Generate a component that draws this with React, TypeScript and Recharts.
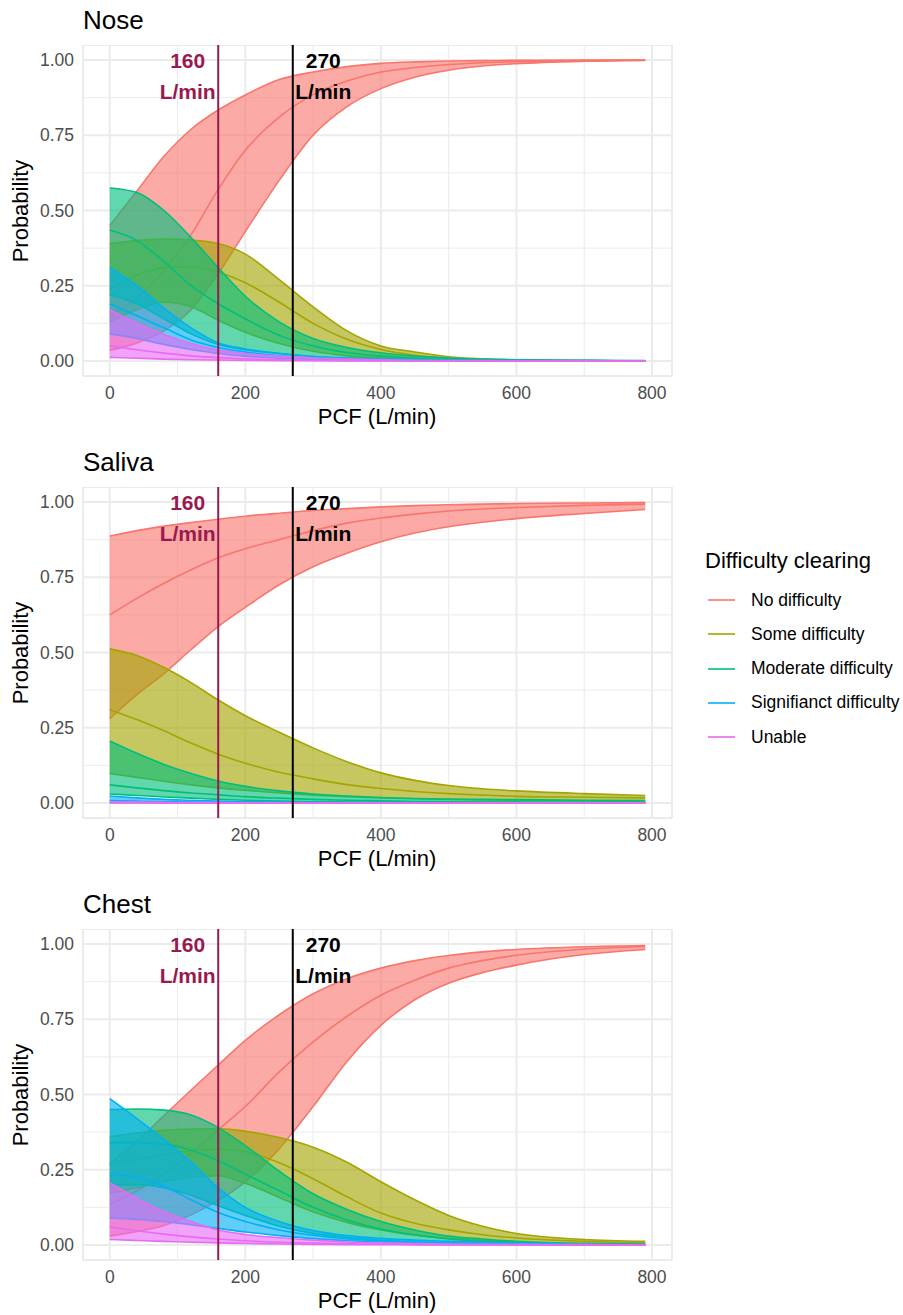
import { useMemo } from 'react'
import { ComposedChart, Area, XAxis, YAxis, CartesianGrid, ReferenceLine, ReferenceDot } from 'recharts'

// PCF sample points (L/min)
const pcf = [0, 40, 80, 120, 160, 200, 250, 300, 350, 400, 450, 500, 550, 600, 700, 790]

// Nose
const noseNoLo = [0.035, 0.06, 0.1, 0.17, 0.29, 0.43, 0.6, 0.75, 0.845, 0.905, 0.943, 0.966, 0.98, 0.988, 0.996, 0.999]
const noseNoMid = [0.15, 0.21, 0.3, 0.42, 0.57, 0.7, 0.81, 0.885, 0.93, 0.96, 0.975, 0.985, 0.991, 0.995, 0.998, 1]
const noseNoHi = [0.45, 0.565, 0.68, 0.77, 0.834, 0.884, 0.935, 0.96, 0.978, 0.989, 0.994, 0.997, 0.998, 0.999, 1, 1]
const noseSomeLo = [0.13, 0.17, 0.195, 0.18, 0.135, 0.095, 0.058, 0.032, 0.017, 0.009, 0.004, 0.002, 0.001, 0.001, 0, 0]
const noseSomeMid = [0.24, 0.285, 0.31, 0.312, 0.295, 0.26, 0.195, 0.125, 0.072, 0.038, 0.019, 0.009, 0.005, 0.002, 0.001, 0]
const noseSomeHi = [0.39, 0.4, 0.405, 0.402, 0.39, 0.355, 0.27, 0.18, 0.1, 0.05, 0.03, 0.014, 0.007, 0.003, 0.001, 0]
const noseModLo = [0.22, 0.19, 0.14, 0.09, 0.055, 0.037, 0.025, 0.015, 0.009, 0.005, 0.003, 0.002, 0.001, 0.001, 0, 0]
const noseModMid = [0.435, 0.4, 0.33, 0.25, 0.19, 0.14, 0.085, 0.05, 0.028, 0.016, 0.009, 0.005, 0.003, 0.002, 0.001, 0]
const noseModHi = [0.575, 0.56, 0.5, 0.41, 0.31, 0.215, 0.13, 0.075, 0.045, 0.027, 0.016, 0.01, 0.006, 0.004, 0.002, 0.001]
const noseSigLo = [0.09, 0.075, 0.055, 0.038, 0.025, 0.016, 0.009, 0.005, 0.003, 0.002, 0.001, 0.001, 0, 0, 0, 0]
const noseSigMid = [0.19, 0.15, 0.11, 0.07, 0.045, 0.03, 0.017, 0.01, 0.006, 0.003, 0.002, 0.001, 0.001, 0, 0, 0]
const noseSigHi = [0.31, 0.25, 0.175, 0.11, 0.06, 0.04, 0.025, 0.015, 0.01, 0.006, 0.004, 0.002, 0.001, 0.001, 0, 0]
const noseUnLo = [0.012, 0.009, 0.006, 0.004, 0.003, 0.002, 0.001, 0.001, 0, 0, 0, 0, 0, 0, 0, 0]
const noseUnMid = [0.05, 0.037, 0.026, 0.017, 0.011, 0.007, 0.004, 0.002, 0.001, 0.001, 0, 0, 0, 0, 0, 0]
const noseUnHi = [0.17, 0.125, 0.088, 0.058, 0.036, 0.025, 0.016, 0.01, 0.006, 0.004, 0.002, 0.001, 0.001, 0, 0, 0]

// Saliva
const salNoLo = [0.28, 0.36, 0.43, 0.51, 0.586, 0.65, 0.725, 0.785, 0.83, 0.868, 0.897, 0.918, 0.933, 0.945, 0.962, 0.975]
const salNoMid = [0.625, 0.68, 0.73, 0.775, 0.815, 0.845, 0.875, 0.905, 0.93, 0.947, 0.96, 0.97, 0.977, 0.982, 0.989, 0.993]
const salNoHi = [0.887, 0.905, 0.92, 0.932, 0.943, 0.953, 0.963, 0.972, 0.978, 0.984, 0.988, 0.991, 0.993, 0.995, 0.997, 0.998]
const salSomeLo = [0.098, 0.085, 0.072, 0.06, 0.05, 0.042, 0.033, 0.026, 0.021, 0.017, 0.014, 0.012, 0.01, 0.009, 0.007, 0.006]
const salSomeMid = [0.31, 0.277, 0.24, 0.199, 0.162, 0.132, 0.102, 0.08, 0.061, 0.048, 0.038, 0.031, 0.026, 0.022, 0.019, 0.017]
const salSomeHi = [0.512, 0.49, 0.45, 0.4, 0.342, 0.29, 0.235, 0.183, 0.137, 0.1, 0.075, 0.058, 0.047, 0.04, 0.031, 0.025]
const salModLo = [0.03, 0.025, 0.02, 0.016, 0.012, 0.009, 0.006, 0.004, 0.003, 0.002, 0.002, 0.001, 0.001, 0.001, 0, 0]
const salModMid = [0.06, 0.05, 0.041, 0.033, 0.027, 0.021, 0.016, 0.012, 0.009, 0.007, 0.005, 0.004, 0.003, 0.003, 0.002, 0.002]
const salModHi = [0.206, 0.165, 0.128, 0.098, 0.073, 0.055, 0.04, 0.03, 0.023, 0.018, 0.015, 0.013, 0.012, 0.011, 0.009, 0.008]
const salSigLo = [0.002, 0.002, 0.001, 0.001, 0, 0, 0, 0, 0, 0, 0, 0, 0, 0, 0, 0]
const salSigMid = [0.008, 0.006, 0.004, 0.003, 0.002, 0.001, 0.001, 0, 0, 0, 0, 0, 0, 0, 0, 0]
const salSigHi = [0.023, 0.017, 0.012, 0.009, 0.006, 0.004, 0.003, 0.002, 0.001, 0.001, 0, 0, 0, 0, 0, 0]
const salUnLo = [0, 0, 0, 0, 0, 0, 0, 0, 0, 0, 0, 0, 0, 0, 0, 0]
const salUnMid = [0.001, 0.001, 0, 0, 0, 0, 0, 0, 0, 0, 0, 0, 0, 0, 0, 0]
const salUnHi = [0.004, 0.003, 0.002, 0.001, 0.001, 0, 0, 0, 0, 0, 0, 0, 0, 0, 0, 0]

// Chest
const chNoLo = [0.03, 0.045, 0.065, 0.1, 0.148, 0.21, 0.32, 0.46, 0.61, 0.73, 0.815, 0.87, 0.905, 0.93, 0.965, 0.982]
const chNoMid = [0.135, 0.18, 0.235, 0.305, 0.383, 0.46, 0.575, 0.675, 0.76, 0.83, 0.88, 0.92, 0.945, 0.963, 0.983, 0.992]
const chNoHi = [0.27, 0.345, 0.43, 0.515, 0.598, 0.68, 0.765, 0.835, 0.885, 0.92, 0.945, 0.962, 0.974, 0.982, 0.991, 0.995]
const chSomeLo = [0.17, 0.19, 0.21, 0.225, 0.23, 0.205, 0.158, 0.11, 0.075, 0.05, 0.033, 0.022, 0.015, 0.01, 0.005, 0.003]
const chSomeMid = [0.267, 0.285, 0.3, 0.313, 0.318, 0.31, 0.273, 0.22, 0.16, 0.106, 0.072, 0.05, 0.034, 0.023, 0.012, 0.007]
const chSomeHi = [0.36, 0.372, 0.381, 0.385, 0.386, 0.378, 0.357, 0.325, 0.275, 0.21, 0.15, 0.098, 0.062, 0.038, 0.018, 0.012]
const chModLo = [0.2, 0.2, 0.19, 0.165, 0.13, 0.098, 0.062, 0.038, 0.024, 0.015, 0.009, 0.006, 0.004, 0.002, 0.001, 0]
const chModMid = [0.34, 0.34, 0.335, 0.315, 0.28, 0.235, 0.18, 0.125, 0.083, 0.053, 0.033, 0.02, 0.012, 0.008, 0.003, 0.001]
const chModHi = [0.45, 0.452, 0.448, 0.432, 0.39, 0.33, 0.245, 0.17, 0.118, 0.078, 0.05, 0.03, 0.02, 0.012, 0.005, 0.002]
const chSigLo = [0.09, 0.085, 0.078, 0.067, 0.055, 0.043, 0.031, 0.021, 0.014, 0.009, 0.006, 0.004, 0.003, 0.002, 0.001, 0]
const chSigMid = [0.235, 0.225, 0.195, 0.15, 0.108, 0.078, 0.05, 0.032, 0.02, 0.014, 0.009, 0.006, 0.004, 0.003, 0.001, 0.001]
const chSigHi = [0.486, 0.42, 0.35, 0.275, 0.19, 0.125, 0.078, 0.048, 0.031, 0.022, 0.016, 0.012, 0.009, 0.006, 0.003, 0.002]
const chUnLo = [0.018, 0.015, 0.012, 0.009, 0.007, 0.005, 0.003, 0.002, 0.001, 0.001, 0, 0, 0, 0, 0, 0]
const chUnMid = [0.06, 0.047, 0.036, 0.027, 0.02, 0.014, 0.009, 0.006, 0.004, 0.003, 0.002, 0.001, 0.001, 0.001, 0, 0]
const chUnHi = [0.206, 0.155, 0.11, 0.078, 0.05, 0.035, 0.024, 0.016, 0.01, 0.007, 0.005, 0.003, 0.002, 0.001, 0.001, 0]

const categories = ['No difficulty', 'Some difficulty', 'Moderate difficulty', 'Signifianct difficulty', 'Unable']
const colors = ['#F8766D', '#A3A500', '#00BF7D', '#00B0F6', '#E76BF3']
const xDomain = [-39.5, 829.5]
const yDomain = [-0.05, 1.05]
const xTicks = [0, 200, 400, 600, 800]
const xMinor = [100, 300, 500, 700]
const yTicks = [0, 0.25, 0.5, 0.75, 1]
const yMinor = [0.125, 0.375, 0.625, 0.875]

const MAROON = '#991950'
const FONT = '"Liberation Sans", Arial, Helvetica, sans-serif'

type Band = [number[], number[], number[]]

const noseBands: Band[] = [
  [noseNoLo, noseNoMid, noseNoHi],
  [noseSomeLo, noseSomeMid, noseSomeHi],
  [noseModLo, noseModMid, noseModHi],
  [noseSigLo, noseSigMid, noseSigHi],
  [noseUnLo, noseUnMid, noseUnHi],
]
const salivaBands: Band[] = [
  [salNoLo, salNoMid, salNoHi],
  [salSomeLo, salSomeMid, salSomeHi],
  [salModLo, salModMid, salModHi],
  [salSigLo, salSigMid, salSigHi],
  [salUnLo, salUnMid, salUnHi],
]
const chestBands: Band[] = [
  [chNoLo, chNoMid, chNoHi],
  [chSomeLo, chSomeMid, chSomeHi],
  [chModLo, chModMid, chModHi],
  [chSigLo, chSigMid, chSigHi],
  [chUnLo, chUnMid, chUnHi],
]

function buildRows(bands: Band[]) {
  return pcf.map((x, i) => {
    const row: Record<string, any> = { x }
    bands.forEach(([lo, mid, hi], k) => {
      row[`band${k}`] = [lo[i], hi[i]]
      row[`mid${k}`] = mid[i]
    })
    return row
  })
}

// minor grid positions: same linear mapping as the axes (domain -> plot offset)
const minorY = ({ offset }: any) =>
  yMinor.map(v => offset.top + ((yDomain[1] - v) / (yDomain[1] - yDomain[0])) * offset.height)
const minorX = ({ offset }: any) =>
  xMinor.map(v => offset.left + ((v - xDomain[0]) / (xDomain[1] - xDomain[0])) * offset.width)

const tickStyle = { fontSize: 17.5, fill: '#4D4D4D', fontFamily: FONT }

function Panel({ title, bands, top }: { title: string; bands: Band[]; top: number }) {
  const rows = useMemo(() => buildRows(bands), [bands])
  return (
    <>
      <div style={{ position: 'absolute', left: 83, top: top - 40, fontSize: 26, lineHeight: '30px', whiteSpace: 'nowrap' }}>
        {title}
      </div>
      <div
        style={{
          position: 'absolute', left: 21, top: top + 166, fontSize: 22, whiteSpace: 'nowrap',
          transform: 'translate(-50%, -50%) rotate(-90deg)',
        }}
      >
        Probability
      </div>
      <div
        style={{
          position: 'absolute', left: 377, top: top + 372, fontSize: 22, whiteSpace: 'nowrap',
          transform: 'translate(-50%, -50%)',
        }}
      >
        PCF (L/min)
      </div>
      <div style={{ position: 'absolute', left: 0, top }}>
        <ComposedChart width={690} height={371} data={rows} margin={{ top: 0, right: 18, bottom: 0, left: 0 }}>
          <CartesianGrid stroke="#EBEBEB" strokeWidth={1} horizontalCoordinatesGenerator={minorY} verticalCoordinatesGenerator={minorX} />
          <CartesianGrid stroke="#EBEBEB" strokeWidth={2} />
          <XAxis
            dataKey="x"
            type="number"
            domain={xDomain}
            ticks={xTicks}
            allowDataOverflow
            axisLine={false}
            tickLine={false}
            tickSize={0}
            tickMargin={11}
            height={40}
            tick={tickStyle}
          />
          <YAxis
            type="number"
            domain={yDomain}
            ticks={yTicks}
            allowDataOverflow
            axisLine={false}
            tickLine={false}
            tickSize={0}
            tickMargin={9}
            width={83}
            tick={tickStyle}
            tickFormatter={(v: number) => v.toFixed(2)}
          />
          {bands.map((_, k) => [
            <Area
              key={`band${k}`}
              dataKey={`band${k}`}
              type="monotone"
              stroke={colors[k]}
              strokeWidth={1.6}
              fill={colors[k]}
              fillOpacity={0.62}
              dot={false}
              activeDot={false}
              isAnimationActive={false}
            />,
            <Area
              key={`mid${k}`}
              dataKey={`mid${k}`}
              type="monotone"
              stroke={colors[k]}
              strokeWidth={1.6}
              fill="none"
              dot={false}
              activeDot={false}
              isAnimationActive={false}
            />,
          ])}
          <ReferenceLine x={160} stroke={MAROON} strokeWidth={2} />
          <ReferenceLine x={270} stroke="#000000" strokeWidth={2} />
          <ReferenceDot x={115} y={1} r={0} fill="none" stroke="none"
            label={{ value: '160', position: 'center', fill: MAROON, fontSize: 21, fontWeight: 700, fontFamily: FONT }} />
          <ReferenceDot x={115} y={0.895} r={0} fill="none" stroke="none"
            label={{ value: 'L/min', position: 'center', fill: MAROON, fontSize: 21, fontWeight: 700, fontFamily: FONT }} />
          <ReferenceDot x={315} y={1} r={0} fill="none" stroke="none"
            label={{ value: '270', position: 'center', fill: '#000000', fontSize: 21, fontWeight: 700, fontFamily: FONT }} />
          <ReferenceDot x={315} y={0.895} r={0} fill="none" stroke="none"
            label={{ value: 'L/min', position: 'center', fill: '#000000', fontSize: 21, fontWeight: 700, fontFamily: FONT }} />
        </ComposedChart>
      </div>
    </>
  )
}

export default function App() {
  return (
    <div
      style={{
        position: 'absolute', left: 0, top: 0, width: 903, height: 1315, background: '#fff',
        fontFamily: FONT, color: '#000', overflow: 'hidden',
      }}
    >
      <Panel title="Nose" bands={noseBands} top={45} />
      <Panel title="Saliva" bands={salivaBands} top={487} />
      <Panel title="Chest" bands={chestBands} top={929} />

      <div style={{ position: 'absolute', left: 705, top: 548, fontSize: 22, lineHeight: '26px', whiteSpace: 'nowrap' }}>
        Difficulty clearing
      </div>
      {categories.map((c, i) => (
        <div
          key={c}
          style={{
            position: 'absolute', left: 708, top: 600 + i * 34.3 - 12, height: 24,
            display: 'flex', alignItems: 'center', whiteSpace: 'nowrap',
          }}
        >
          <svg width={27} height={4}>
            <line x1={0} x2={27} y1={2} y2={2} stroke={colors[i]} strokeWidth={1.6} />
          </svg>
          <span style={{ marginLeft: 16, fontSize: 17.5 }}>{c}</span>
        </div>
      ))}
    </div>
  )
}
